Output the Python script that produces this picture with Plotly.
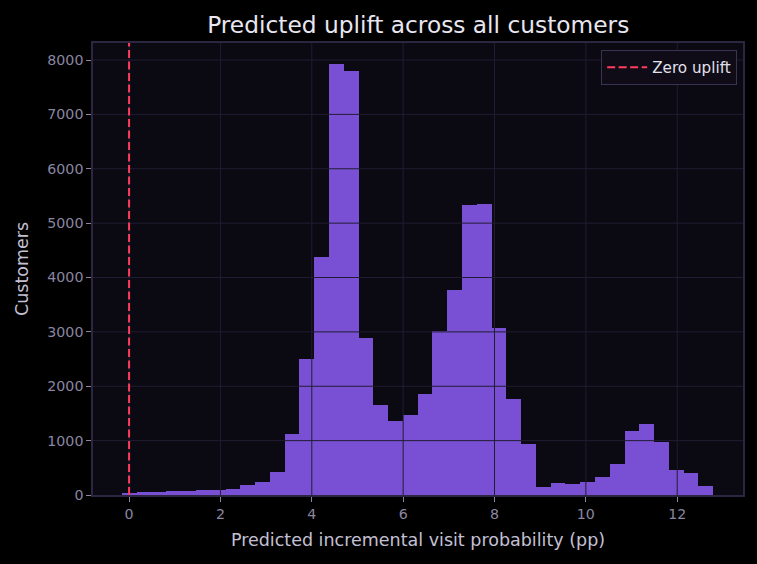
import plotly.graph_objects as go

# Histogram definition (bins) and counts
bin_start = -0.153
bin_width = 0.3235
counts = [30, 50, 50, 65, 65, 85, 85, 110, 185, 240,
          425, 1125, 2500, 4370, 7920, 7800, 2890, 1655, 1360, 1470,
          1860, 3015, 3770, 5330, 5350, 3070, 1765, 940, 150, 220,
          200, 240, 330, 570, 1175, 1305, 975, 460, 405, 165]

x_ticks = [0, 2, 4, 6, 8, 10, 12]
y_ticks = [0, 1000, 2000, 3000, 4000, 5000, 6000, 7000, 8000]
x_range = [-0.79, 13.44]
y_range = [0, 8313]
zero_value = 0

centers = [bin_start + bin_width * (i + 0.5) for i in range(len(counts))]

FONT = "DejaVu Sans"
GRID = "#221c33"

fig = go.Figure()
fig.add_trace(go.Bar(
    x=centers, y=counts, width=bin_width,
    marker=dict(color="#7950d3", line=dict(width=0)),
    showlegend=False, hoverinfo="skip",
))

shapes = []
for xv in x_ticks:
    shapes.append(dict(type="line", xref="x", yref="paper", x0=xv, x1=xv, y0=0, y1=1,
                       line=dict(color=GRID, width=1), layer="above"))
for yv in y_ticks[1:]:
    shapes.append(dict(type="line", xref="paper", yref="y", x0=0, x1=1, y0=yv, y1=yv,
                       line=dict(color=GRID, width=1), layer="above"))
shapes.append(dict(type="line", xref="x", yref="paper", x0=zero_value, x1=zero_value, y0=0, y1=1,
                   line=dict(color="#ff3d5e", width=2, dash="8px,3.5px"), layer="above",
                   showlegend=True, name="Zero uplift"))

fig.update_layout(
    width=757, height=564, autosize=False,
    margin=dict(l=93, r=14, t=43, b=69),
    paper_bgcolor="#000000", plot_bgcolor="#0b0911",
    font=dict(family=FONT, color="#8e89a6"),
    bargap=0,
    shapes=shapes,
    showlegend=True,
    title=dict(text="Predicted uplift across all customers", x=0.5525, xanchor="center",
               y=1 - 25 / 564, yanchor="middle", yref="container",
               font=dict(family=FONT, size=23.3, color="#e8e6f0")),
    legend=dict(x=0.991, y=0.985, xanchor="right", yanchor="top",
                bgcolor="#0f0c17", bordercolor="#3a3452", borderwidth=1,
                itemwidth=40, tracegroupgap=0,
                font=dict(family=FONT, size=15.2, color="#e2e0ec")),
    xaxis=dict(range=x_range, tickvals=x_ticks, ticks="outside", ticklen=5, tickwidth=1,
               tickcolor="#8a85a0", showgrid=False, zeroline=False,
               showline=True, linecolor="#2c2640", linewidth=1.5, mirror=True,
               tickfont=dict(family=FONT, size=14.2, color="#8a86a2"),
               title=dict(text="Predicted incremental visit probability (pp)", standoff=13,
                          font=dict(family=FONT, size=17.5, color="#c4c0d4"))),
    yaxis=dict(range=y_range, tickvals=y_ticks, ticks="outside", ticklen=5, tickwidth=1,
               tickcolor="#8a85a0", showgrid=False, zeroline=False,
               showline=True, linecolor="#2c2640", linewidth=1.5, mirror=True,
               tickfont=dict(family=FONT, size=14.2, color="#8a86a2"),
               title=dict(text="Customers", standoff=14,
                          font=dict(family=FONT, size=17.5, color="#c4c0d4"))),
)

fig.write_html("out.html")
